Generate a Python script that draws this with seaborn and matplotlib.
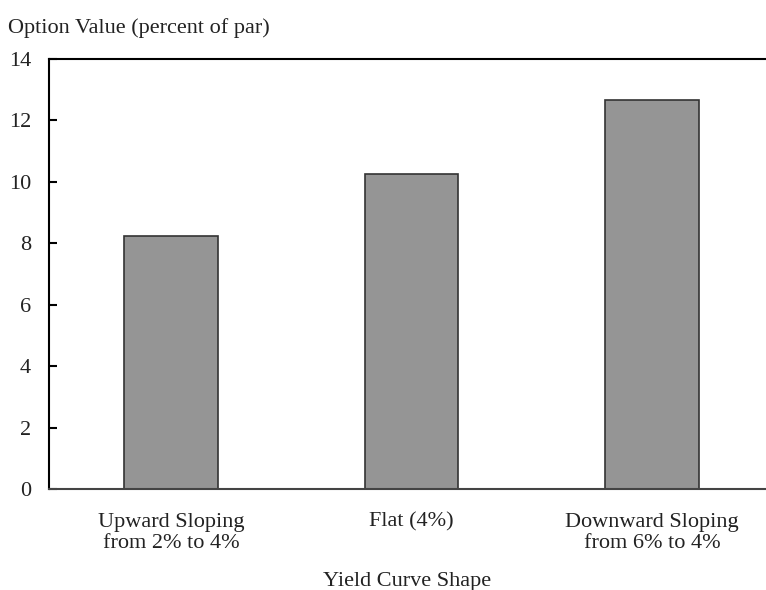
import matplotlib.pyplot as plt
import pandas as pd
import seaborn as sns

# data
categories = ["Upward Sloping\nfrom 2% to 4%", "Flat (4%)", "Downward Sloping\nfrom 6% to 4%"]
option_values = [8.25, 10.27, 12.65]
y_ticks = [0, 2, 4, 6, 8, 10, 12, 14]

sns.set_style("white")
plt.rcParams["font.family"] = ["Liberation Serif", "DejaVu Serif"]
plt.rcParams["text.color"] = "#222222"

df = pd.DataFrame({"shape": categories, "value": option_values})

fig = plt.figure(figsize=(7.66, 5.90), dpi=100)
ax = fig.add_axes([0.064, 0.171, 0.936, 0.729])
sns.barplot(data=df, x="shape", y="value", color="#959595", edgecolor="#333333",
            linewidth=1.2, width=0.39, saturation=1, ax=ax)

ax.set_ylim(0, 14)
ax.set_xlim(-0.507, 2.474)
ax.set_yticks(y_ticks)
ax.tick_params(axis="y", left=True, direction="in", length=6, width=1.5, color="black",
               labelsize=16, pad=13, labelcolor="#222222")
ax.tick_params(axis="x", bottom=False, length=0, labelsize=16, pad=17, labelcolor="#222222")
for lbl in ax.get_xticklabels():
    lbl.set_linespacing(1.15)

for side in ["left", "top"]:
    ax.spines[side].set_color("black")
    ax.spines[side].set_linewidth(1.5)
ax.spines["bottom"].set_color("#444444")
ax.spines["bottom"].set_linewidth(1.5)
ax.spines["right"].set_visible(False)

ax.set_ylabel("")
ax.set_xlabel("Yield Curve Shape", fontsize=16, labelpad=14, color="#222222")
fig.text(8 / 766, 1 - 28 / 590, "Option Value (percent of par)", fontsize=16,
         ha="left", va="center", color="#222222")

fig.savefig("out.png", dpi=100)
plt.close(fig)
